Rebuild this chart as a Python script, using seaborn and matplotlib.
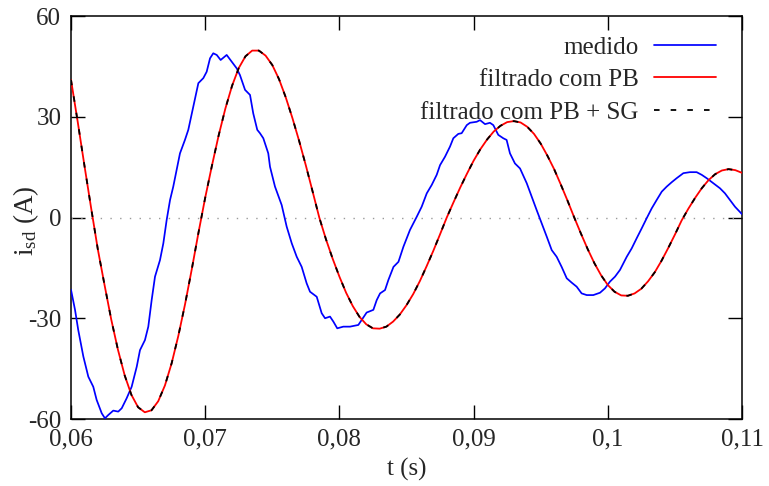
import matplotlib
matplotlib.use("Agg")
import matplotlib.pyplot as plt
import seaborn as sns
import numpy as np
import pandas as pd

# ---------------- data ----------------
medido_t = [0.06000, 0.06030, 0.06054, 0.06092, 0.06129, 0.06166, 0.06191, 0.06229, 0.06253, 0.06278,
            0.06315, 0.06352, 0.06378, 0.06415, 0.06452, 0.06490, 0.06514, 0.06551, 0.06576, 0.06601,
            0.06626, 0.06663, 0.06688, 0.06713, 0.06738, 0.06762, 0.06812, 0.06849, 0.06874, 0.06911,
            0.06949, 0.06986, 0.07011, 0.07036, 0.07060, 0.07086, 0.07115, 0.07160, 0.07197, 0.07235,
            0.07259, 0.07297, 0.07334, 0.07358, 0.07388, 0.07408, 0.07433, 0.07470, 0.07483, 0.07520,
            0.07570, 0.07607, 0.07645, 0.07682, 0.07719, 0.07756, 0.07781, 0.07831, 0.07868, 0.07893,
            0.07930, 0.07955, 0.07984, 0.08029, 0.08079, 0.08141, 0.08166, 0.08203, 0.08253, 0.08278,
            0.08303, 0.08340, 0.08365, 0.08403, 0.08440, 0.08477, 0.08526, 0.08576, 0.08613, 0.08651,
            0.08688, 0.08725, 0.08750, 0.08787, 0.08824, 0.08849, 0.08886, 0.08911, 0.08949, 0.08973,
            0.09023, 0.09048, 0.09085, 0.09122, 0.09147, 0.09184, 0.09221, 0.09246, 0.09271, 0.09308,
            0.09346, 0.09396, 0.09433, 0.09470, 0.09507, 0.09545, 0.09582, 0.09619, 0.09656, 0.09694,
            0.09731, 0.09768, 0.09805, 0.09843, 0.09892, 0.09942, 0.09979, 0.10016, 0.10054, 0.10091,
            0.10141, 0.10178, 0.10215, 0.10253, 0.10290, 0.10327, 0.10364, 0.10402, 0.10439, 0.10476,
            0.10513, 0.10563, 0.10612, 0.10662, 0.10700, 0.10737, 0.10786, 0.10836, 0.10873, 0.10911,
            0.10948, 0.11000]
medido_i = [-21.5, -27.5, -33.5, -41.4, -47.4, -50.4, -54.3, -58.3, -59.8, -58.8,
            -57.5, -57.8, -56.8, -53.8, -50.4, -44.4, -39.5, -36.5, -32.5, -24.6,
            -17.6, -12.7, -7.7, -0.7, 5.2, 9.2, 19.1, 23.1, 26.1, 33.0,
            40.0, 41.5, 43.4, 47.4, 48.9, 48.4, 46.9, 48.4, 46.4, 44.4,
            42.4, 38.0, 36.5, 31.0, 26.1, 25.1, 23.6, 19.1, 15.1, 9.2,
            3.7, -2.7, -7.7, -11.7, -14.7, -19.6, -22.1, -23.6, -28.5, -30.0,
            -29.5, -31.0, -33.0, -32.5, -32.5, -32.0, -30.5, -28.3, -27.5, -24.6,
            -22.6, -21.6, -18.6, -14.7, -13.2, -8.7, -3.7, 0.2, 3.2, 7.2,
            9.7, 12.7, 15.6, 18.1, 21.1, 23.6, 24.9, 25.1, 27.5, 28.2,
            28.5, 29.0, 27.8, 28.2, 27.5, 24.6, 23.6, 23.1, 19.1, 16.1,
            14.6, 10.2, 6.2, 2.2, -1.7, -5.7, -9.7, -11.7, -14.7, -18.1,
            -19.4, -20.6, -22.6, -23.1, -23.1, -22.4, -21.1, -19.1, -17.6, -15.6,
            -11.7, -9.2, -6.2, -3.2, -0.2, 2.7, 5.2, 7.7, 9.2, 10.5,
            11.7, 13.2, 13.5, 13.5, 12.7, 11.7, 10.2, 8.7, 7.2, 5.2,
            3.2, 1.0]

filt_t = [0.0600, 0.0605, 0.0610, 0.0615, 0.0620, 0.0625, 0.0630, 0.0635, 0.0640, 0.0645,
          0.0650, 0.0655, 0.0660, 0.0665, 0.0670, 0.0675, 0.0680, 0.0685, 0.0690, 0.0695,
          0.0700, 0.0705, 0.0710, 0.0715, 0.0720, 0.0725, 0.0730, 0.0735, 0.0740, 0.0745,
          0.0750, 0.0755, 0.0760, 0.0765, 0.0770, 0.0775, 0.0780, 0.0785, 0.0790, 0.0795,
          0.0800, 0.0805, 0.0810, 0.0815, 0.0820, 0.0825, 0.0830, 0.0835, 0.0840, 0.0845,
          0.0850, 0.0855, 0.0860, 0.0865, 0.0870, 0.0875, 0.0880, 0.0885, 0.0890, 0.0895,
          0.0900, 0.0905, 0.0910, 0.0915, 0.0920, 0.0925, 0.0930, 0.0935, 0.0940, 0.0945,
          0.0950, 0.0955, 0.0960, 0.0965, 0.0970, 0.0975, 0.0980, 0.0985, 0.0990, 0.0995,
          0.1000, 0.1005, 0.1010, 0.1015, 0.1020, 0.1025, 0.1030, 0.1035, 0.1040, 0.1045,
          0.1050, 0.1055, 0.1060, 0.1065, 0.1070, 0.1075, 0.1080, 0.1085, 0.1090, 0.1095,
          0.1100]
filt_pb = [41.0, 28.5, 15.5, 2.8, -9.5, -20.1, -30.4, -39.4, -47.0, -52.8,
           -56.5, -58.0, -57.4, -54.7, -50.0, -43.4, -35.2, -25.8, -15.4, -4.5,
           5.9, 15.4, 24.4, 32.4, 39.2, 44.5, 48.0, 49.7, 49.7, 48.2,
           45.4, 41.2, 35.8, 29.6, 22.8, 15.5, 7.8, 0.0, -6.5, -12.3,
           -17.6, -22.4, -26.4, -29.6, -31.8, -33.0, -33.1, -32.5, -31.0, -28.9,
           -26.1, -22.8, -18.9, -14.5, -9.9, -5.0, 0.0, 4.5, 8.9, 13.0,
           16.9, 20.3, 23.2, 25.6, 27.3, 28.4, 28.7, 28.3, 27.0, 24.9,
           22.0, 18.4, 14.4, 9.8, 5.0, 0.0, -4.8, -9.4, -13.6, -17.2,
           -20.1, -22.1, -23.2, -23.3, -22.6, -21.2, -19.0, -16.3, -12.9, -9.1,
           -5.1, -0.9, 2.6, 5.8, 8.7, 11.1, 12.9, 14.0, 14.4, 14.1,
           13.3]
# PB + SG curve lies exactly on the PB curve in the reference
filt_pbsg = list(filt_pb)

x_ticks = [0.06, 0.07, 0.08, 0.09, 0.10, 0.11]
x_tick_labels = ["0,06", "0,07", "0,08", "0,09", "0,1", "0,11"]
y_ticks = [-60, -30, 0, 30, 60]
y_tick_labels = ["-60", "-30", "0", "30", "60"]
labels = ["medido", "filtrado com PB", "filtrado com PB + SG"]

# ---------------- style ----------------
sns.set_style("ticks")
plt.rcParams["font.family"] = ["Liberation Serif", "DejaVu Serif"]
plt.rcParams["mathtext.fontset"] = "custom"
plt.rcParams["mathtext.rm"] = "Liberation Serif"
plt.rcParams["mathtext.it"] = "Liberation Serif:italic"
plt.rcParams["lines.scale_dashes"] = False

FS = 18
W, H = 769, 486
fig = plt.figure(figsize=(W / 100, H / 100), dpi=100)
L, R, T, B = 71, 742, 16, 419
ax = fig.add_axes([L / W, 1 - B / H, (R - L) / W, (B - T) / H])

ax.axhline(0, color="#9a9a9a", lw=1.0, ls=(0, (1, 6)), zorder=1)

df_m = pd.DataFrame({"t": medido_t, "i": medido_i})
df_f = pd.DataFrame({"t": filt_t, "pb": filt_pb, "pbsg": filt_pbsg})

sns.lineplot(data=df_m, x="t", y="i", ax=ax, color="#0000ff", lw=1.25, label=labels[0], zorder=3)
sns.lineplot(data=df_f, x="t", y="pb", ax=ax, color="#ff0000", lw=1.3, label=labels[1], zorder=4)
sns.lineplot(data=df_f, x="t", y="pbsg", ax=ax, color="black", lw=1.3,
             linestyle=(0, (4, 8)), label=labels[2], zorder=5)

ax.set_xlim(0.06, 0.11)
ax.set_ylim(-60, 60)
ax.set_xticks(x_ticks)
ax.set_xticklabels(x_tick_labels)
ax.set_yticks(y_ticks)
ax.set_yticklabels(y_tick_labels)
ax.tick_params(direction="in", length=10, width=1.0, top=True, right=True,
               labelsize=FS, color="black")
ax.tick_params(axis="x", pad=7)
ax.tick_params(axis="y", pad=7)
for s in ax.spines.values():
    s.set_visible(True)
    s.set_linewidth(1.1)
    s.set_color("black")

ax.set_xlabel("t (s)", fontsize=FS, labelpad=5)
ax.set_ylabel(r"i$_{\mathrm{sd}}$ (A)", fontsize=19.5)
ax.yaxis.set_label_coords((41 - L) / (R - L), (B - 221) / (B - T))

leg = ax.legend(loc="upper right", frameon=False, markerfirst=False, fontsize=FS,
                handlelength=2.5, handletextpad=0.6, labelspacing=0.4,
                borderpad=0, borderaxespad=0,
                bbox_to_anchor=((716 - L) / (R - L), 1 - (36 - T) / (B - T)))

fig.savefig("out.png", dpi=100)
